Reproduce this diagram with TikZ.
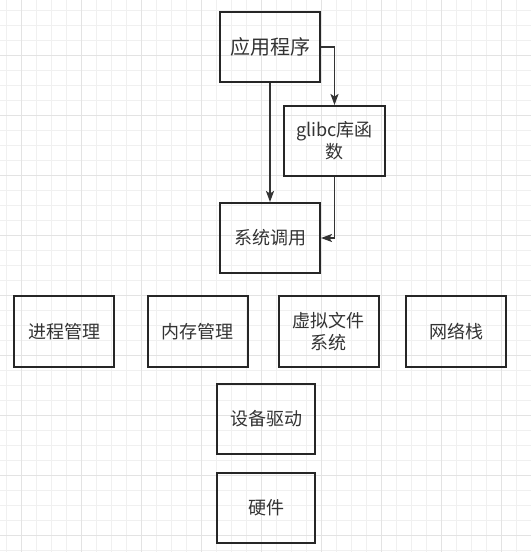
\documentclass[tikz,border=0pt]{standalone}
\usepackage{fontspec}
\setmainfont{Noto Sans CJK SC}
\usepackage{tikz}
\usetikzlibrary{arrows.meta,positioning}

\begin{document}
\begin{tikzpicture}[x=1pt, y=-1pt, line width=2pt,
  box/.style={draw=black!85, rectangle, minimum width=100pt, minimum height=70pt,
    inner sep=0pt, align=center, text=black!80, font=\fontsize{18}{22}\selectfont},
  link/.style={draw=black!80, line width=1.8pt, -{Stealth[length=11pt,width=8pt,inset=2.5pt]}}]
\useasboundingbox (0,0) rectangle (531,552);
%% grid
\foreach \gx in {0,...,34} \draw[line width=.7pt, black!6] (6.7+15*\gx,0) -- (6.7+15*\gx,552);
\foreach \gy in {0,...,36} \draw[line width=.7pt, black!6] (0,10+15*\gy) -- (531,10+15*\gy);
\foreach \gx in {0,...,8} \draw[line width=.8pt, black!11] (21.7+60*\gx,0) -- (21.7+60*\gx,552);
\foreach \gy in {0,...,8} \draw[line width=.8pt, black!11] (0,55+60*\gy) -- (531,55+60*\gy);
%% top part
\node[box, font=\fontsize{20}{24}\selectfont] (app) at (270,47) {应用程序};%%
\node[box, minimum width=101pt] (glibc) at (334.5,141) {glibc库函\\数};%%
\node[box] (sys) at (270,238) {系统调用};%%
\draw[link] (app.east) -| (glibc.north);%%
\draw[link] (app.south) -- (sys.north);%%
\draw[link] (glibc.south) |- (sys.east);%%
%% kernel parts
\node[box, minimum height=71pt] (proc) at (64,331.5) {进程管理};%%
\node[box, minimum height=71pt] (mem) at (197.5,331.5) {内存管理};%%
\node[box, minimum height=71pt] (vfs) at (328.5,331.5) {虚拟文件\\系统};%%
\node[box, minimum height=71pt] (net) at (456,331.5) {网络栈};%%
\node[box, minimum width=98pt] (drv) at (266,419) {设备驱动};%%
\node[box, minimum width=98pt] (hw) at (266,508) {硬件};%%
\end{tikzpicture}
\end{document}
